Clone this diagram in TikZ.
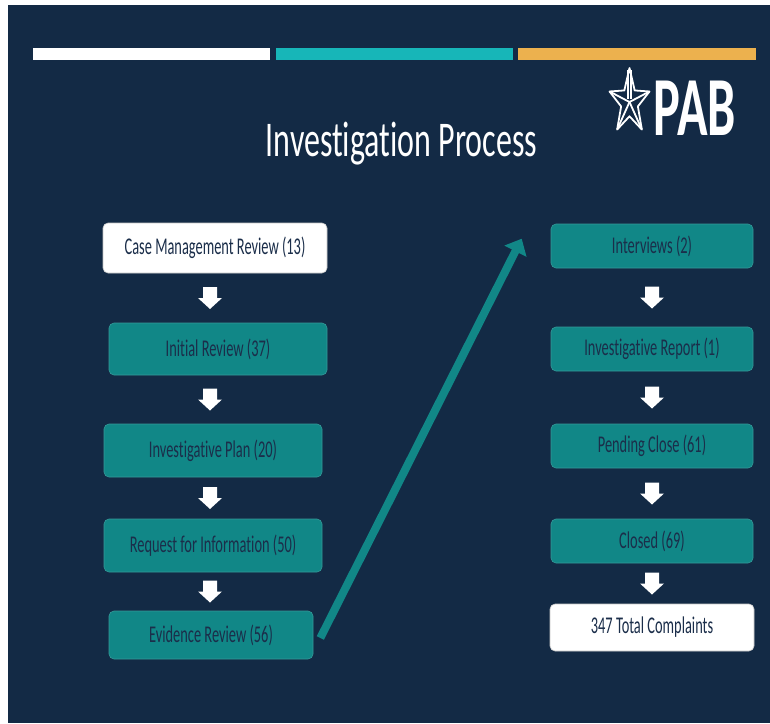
\documentclass[tikz,border=0pt]{standalone}
\usepackage{fontspec}
\setmainfont{Carlito}[FakeStretch=0.6, Ligatures=NoCommon]
\newfontfamily\titelfont{Carlito}[FakeStretch=0.64, Ligatures=NoCommon]
\usetikzlibrary{calc,arrows.meta}
\definecolor{navybg}{HTML}{132A45}
\definecolor{boxteal}{HTML}{118787}
\definecolor{barteal}{HTML}{17B6B8}
\definecolor{barorange}{HTML}{ECB14E}
\definecolor{boxtext}{HTML}{1B2E4A}
\tikzset{
	kasten/.style={rounded corners=5pt, fill=boxteal, draw=boxteal!85!white, line width=0.6pt,
		text=boxtext, font=\fontsize{24}{24}\selectfont, inner sep=0pt, minimum height=52pt},
	weisskasten/.style={kasten, fill=white, draw=gray!45},
	diagpfeil/.style={draw=boxteal, line width=8pt, -{Triangle[length=14pt,width=24pt]}},
	blockpfeil/.pic={\fill [white] (-7,-11) -- (7,-11) -- (7,0) -- (12,0) -- (0,11) -- (-12,0) -- (-7,0) -- cycle;}
}
\begin{document}
\begin{tikzpicture}[x=1pt,y=-1pt]
\useasboundingbox (0,0) rectangle (770,723);
% Hintergrund:
	\fill [white] (0,0) rectangle (770,723);
	\fill [navybg] (8,5) rectangle (770,723);
	% Balken
	\fill [white] (33,48) rectangle (270,60);
	\fill [barteal] (276,48) rectangle (513,60);
	\fill [barorange] (518,48) rectangle (756,60);
	% Titel und Logo
	\node [font=\titelfont\fontsize{50}{50}\selectfont, text=white, anchor=base] (titel) at (401.5,156) {Investigation Process};
	\node [font=\fontsize{84}{84}\selectfont\bfseries, text=white, anchor=base] (pab) at (695,135) {PAB};
	\begin{scope}[shift={(629.5,102)}, x=21pt, y=34pt, white, line width=1.8pt, line join=round]
		\draw (90:1) -- (126:0.42) -- (162:1) -- (198:0.42) -- (234:1) -- (270:0.42) -- (306:1) -- (342:0.42) -- (18:1) -- (54:0.42) -- cycle;
		\draw (0,0) -- (162:1);
		\draw (0,0) -- (18:1);
		\draw (0,0) -- (234:1);
		\draw (0,0) -- (306:1);
		\draw (-0.08,0.1) -- (-0.08,0.95);
		\draw (0.08,0.1) -- (0.08,0.95);
	\end{scope}
% Kaesten:
	% linke Spalte
	\node [weisskasten, minimum width=224pt, minimum height=50pt] (cmr) at (215,248) {Case Management Review (13)};
	\node [kasten, minimum width=218pt] (ir) at (218,349) {Initial Review (37)};
	\node [kasten, minimum width=218pt, minimum height=53pt] (ip) at (213,450.5) {Investigative Plan (20)};
	\node [kasten, minimum width=218pt, minimum height=53pt] (rfi) at (213,545.5) {Request for Information (50)};
	\node [kasten, minimum width=204pt, minimum height=48pt] (er) at (211,635) {Evidence Review (56)};
	% rechte Spalte
	\node [kasten, minimum width=202pt, minimum height=44pt] (iv) at (652,246) {Interviews (2)};
	\node [kasten, minimum width=202pt, minimum height=44pt] (rep) at (652,349) {Investigative Report (1)};
	\node [kasten, minimum width=202pt, minimum height=44pt] (pc) at (652,446) {Pending Close (61)};
	\node [kasten, minimum width=202pt, minimum height=44pt] (cl) at (652,541) {Closed (69)};
	\node [weisskasten, minimum width=204pt, minimum height=47pt] (tot) at (652,627.5) {347 Total Complaints};
% Pfeile:
	\coordinate (lcol) at (210,0);
	\coordinate (rcol) at (652,0);
	% links
	\pic at ($(cmr.south -| lcol)!.5!(ir.north -| lcol)$) {blockpfeil};
	\pic at ($(ir.south -| lcol)!.5!(ip.north -| lcol)$) {blockpfeil};
	\pic at ($(ip.south -| lcol)!.5!(rfi.north -| lcol)$) {blockpfeil};
	\pic at ($(rfi.south -| lcol)!.5!(er.north -| lcol)$) {blockpfeil};
	% rechts
	\pic at ($(iv.south -| rcol)!.5!(rep.north -| rcol)$) {blockpfeil};
	\pic at ($(rep.south -| rcol)!.5!(pc.north -| rcol)$) {blockpfeil};
	\pic at ($(pc.south -| rcol)!.5!(cl.north -| rcol)$) {blockpfeil};
	\pic at ($(cl.south -| rcol)!.5!(tot.north -| rcol)$) {blockpfeil};
	% Uebergang
	\draw [diagpfeil] ($(er.east)+(7,3)$) -- ($(iv.north west)+(-29,15)$);
\end{tikzpicture}
\end{document}
